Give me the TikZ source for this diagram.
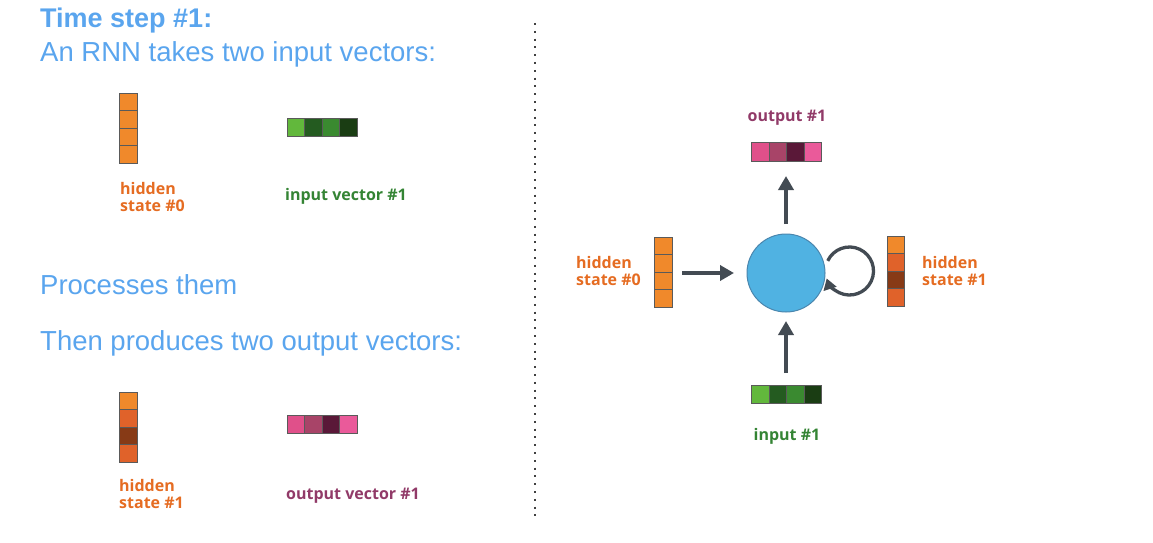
\documentclass[tikz,border=0pt]{standalone}
\usepackage{fontspec}
\setmainfont{Liberation Sans}
\newfontfamily\labelfont{Open Sans}
\usetikzlibrary{arrows.meta,positioning}
\definecolor{titleblue}{HTML}{5AA5EE}
\definecolor{orA}{HTML}{F0892B}
\definecolor{orB}{HTML}{E0622A}
\definecolor{orC}{HTML}{873A16}
\definecolor{grA}{HTML}{62B83C}
\definecolor{grB}{HTML}{245B20}
\definecolor{grC}{HTML}{3A8A30}
\definecolor{grD}{HTML}{1A3D13}
\definecolor{pkA}{HTML}{E0508A}
\definecolor{pkB}{HTML}{A84468}
\definecolor{pkC}{HTML}{5A1838}
\definecolor{pkD}{HTML}{EA5A9A}
\definecolor{txor}{HTML}{E56C22}
\definecolor{txgr}{HTML}{348434}
\definecolor{txpk}{HTML}{913A68}
\definecolor{arrowgray}{HTML}{434B53}
\definecolor{cellline}{HTML}{5A5A5A}
\definecolor{rnnblue}{HTML}{50B2E2}
\definecolor{rnnedge}{HTML}{4A86AE}
\tikzset{
  vcell/.style={draw=cellline, line width=1pt, inner sep=0pt, minimum width=17.5pt, minimum height=17.5pt, outer sep=0pt},
  hcell/.style={draw=cellline, line width=1pt, inner sep=0pt, minimum width=17.5pt, minimum height=18.5pt, outer sep=0pt},
  bigtxt/.style={text=titleblue, anchor=base west, inner sep=0pt, font=\fontsize{27.5}{32}\selectfont},
  lbl/.style={anchor=base west, inner sep=0pt, align=left, font=\labelfont\bfseries\fontsize{16}{17}\selectfont},
  lblc/.style={anchor=base, inner sep=0pt, font=\labelfont\bfseries\fontsize{16}{17}\selectfont},
  flow/.style={draw=arrowgray, line width=3.6pt, -{Triangle[length=14pt,width=15pt]}},
}
\begin{document}
\begin{tikzpicture}[x=1pt,y=-1pt]
\useasboundingbox (0,0) rectangle (1153,543);
% texts left
\node[bigtxt, font=\bfseries\fontsize{27}{30}\selectfont] (title) at (40,28) {Time step \#1:};
\node[bigtxt] (t1) at (40,62) {An RNN takes two input vectors:};
\node[bigtxt] (t2) at (40,294) {Processes them};
\node[bigtxt] (t3) at (40,350) {Then produces two output vectors:};
% hidden state #0 (left)
\node[vcell, fill=orA] (lh0a) at (128.5,101.75) {};
\node[vcell, fill=orA, below=0pt of lh0a] (lh0b) {};
\node[vcell, fill=orA, below=0pt of lh0b] (lh0c) {};
\node[vcell, fill=orA, below=0pt of lh0c] (lh0d) {};
\node[lbl, text=txor] (lh0t) at (120,211) {hidden\\state \#0};
% input vector #1 (left)
\node[hcell, fill=grA] (lx1) at (296,127.5) {};
\node[hcell, fill=grB, right=0pt of lx1] (lx2) {};
\node[hcell, fill=grC, right=0pt of lx2] (lx3) {};
\node[hcell, fill=grD, right=0pt of lx3] (lx4) {};
\node[lbl, text=txgr] (lxt) at (285,200) {input vector \#1};
% hidden state #1 (left)
\node[vcell, fill=orA] (lh1a) at (128.5,401) {};
\node[vcell, fill=orB, below=0pt of lh1a] (lh1b) {};
\node[vcell, fill=orC, below=0pt of lh1b] (lh1c) {};
\node[vcell, fill=orB, below=0pt of lh1c] (lh1d) {};
\node[lbl, text=txor] (lh1t) at (119,508) {hidden\\state \#1};
% output vector #1 (left)
\node[hcell, fill=pkA] (ly1) at (296,424.5) {};
\node[hcell, fill=pkB, right=0pt of ly1] (ly2) {};
\node[hcell, fill=pkC, right=0pt of ly2] (ly3) {};
\node[hcell, fill=pkD, right=0pt of ly3] (ly4) {};
\node[lbl, text=txpk] (lyt) at (286,499) {output vector \#1};
% divider
\coordinate (dtop) at (535,23);
\coordinate (dbot) at (535,516);
\draw[draw=black!75, line width=2pt, dash pattern=on 2pt off 5.8pt] (dtop) -- (dbot);
% right diagram
\node[circle, draw=rnnedge, line width=1pt, fill=rnnblue, minimum size=78pt, inner sep=0pt] (rnn) at (786,273) {};
% output
\node[hcell, fill=pkA] (ry1) at (760.5,152) {};
\node[hcell, fill=pkB, right=0pt of ry1] (ry2) {};
\node[hcell, fill=pkC, right=0pt of ry2] (ry3) {};
\node[hcell, fill=pkD, right=0pt of ry3] (ry4) {};
\node[lblc, text=txpk] (ryt) at (787,121) {output \#1};
% input
\node[hcell, fill=grA] (rx1) at (760.5,394.5) {};
\node[hcell, fill=grB, right=0pt of rx1] (rx2) {};
\node[hcell, fill=grC, right=0pt of rx2] (rx3) {};
\node[hcell, fill=grD, right=0pt of rx3] (rx4) {};
\node[lblc, text=txgr] (rxt) at (787,440) {input \#1};
% hidden state #0 right
\node[vcell, fill=orA] (rh0a) at (663.5,246) {};
\node[vcell, fill=orA, below=0pt of rh0a] (rh0b) {};
\node[vcell, fill=orA, below=0pt of rh0b] (rh0c) {};
\node[vcell, fill=orA, below=0pt of rh0c] (rh0d) {};
\node[lbl, text=txor] (rh0t) at (576,285) {hidden\\state \#0};
% hidden state #1 right
\node[vcell, fill=orA] (rh1a) at (896,245) {};
\node[vcell, fill=orB, below=0pt of rh1a] (rh1b) {};
\node[vcell, fill=orC, below=0pt of rh1b] (rh1c) {};
\node[vcell, fill=orB, below=0pt of rh1c] (rh1d) {};
\node[lbl, text=txor] (rh1t) at (922,285) {hidden\\state \#1};
% arrows
\coordinate (aLs) at (682,273);
\coordinate (aLe) at (734,273);
\draw[flow] (aLs) -- (aLe);
\coordinate (aBs) at (786,373);
\coordinate (aBe) at (786,321);
\draw[flow] (aBs) -- (aBe);
\coordinate (aTs) at (786,224);
\coordinate (aTe) at (786,176);
\draw[flow] (aTs) -- (aTe);
% self loop
\coordinate (lc) at (849.5,271);
\draw[draw=arrowgray, line width=3.3pt, -{Triangle[length=11pt,width=13pt]}]
  ([shift={(155:24pt)}]lc) arc[start angle=155, end angle=-162, radius=24pt];
\end{tikzpicture}
\end{document}
